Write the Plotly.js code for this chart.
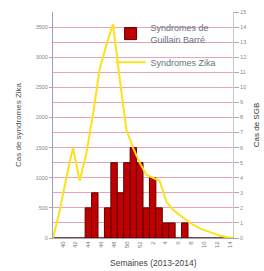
<!DOCTYPE html>
<html>
<head>
<meta charset="utf-8">
<script src="https://cdn.plot.ly/plotly-3.0.1.min.js"></script>
<style>html,body{margin:0;padding:0;background:#fff}#c{width:264px;height:271px}</style>
</head>
<body>
<div id="c"></div>
<script>
var weeks = ["39","40","41","42","43","44","45","46","47","48","49","50","51","52",
             "1","2","3","4","5","6","7","8","9","10","11","12","13","14"];
var tickWeeks = ["40","42","44","46","48","50","52","2","4","6","8","10","12","14"];
var sgbCases = [0,0,0,0,0,2,3,0,2,5,3,5,6,5,2,4,2,1,1,0,1,0,0,0,0,0,0,0];
var zikaCases = [0,450,1000,1500,950,1400,2050,2800,3200,3550,2650,1800,1500,1250,
                 1050,1000,950,600,470,380,300,220,160,120,80,40,15,0];
var seriesNames = ["Syndromes de<br>Guillain Barré", "Syndromes Zika"];

var traces = [
  {type:"bar", x:weeks, y:sgbCases, name:seriesNames[0], xaxis:"x", yaxis:"y", legendgroup:"a",
   marker:{color:"#c00000", line:{color:"#5c0000", width:1}}},
  {type:"scatter", mode:"lines", x:weeks, y:zikaCases, name:seriesNames[1], xaxis:"x2", yaxis:"y2",
   legendgroup:"b", line:{color:"#fbe21c", width:2}}
];

var layout = {
  width:264, height:271,
  margin:{l:53, r:31, t:12, b:33, pad:0},
  paper_bgcolor:"#ffffff", plot_bgcolor:"#ffffff",
  font:{family:"Liberation Sans, Arial, sans-serif", color:"#666"},
  bargap:0,
  showlegend:true,
  legend:{x:0.32, y:0.985, xanchor:"left", yanchor:"top", bgcolor:"rgba(0,0,0,0)",
          font:{size:9, color:"#6a7080"}, tracegroupgap:6},
  xaxis:{type:"category", categoryorder:"array", categoryarray:weeks,
         range:[-0.5, 27.5], tickmode:"array", tickvals:tickWeeks, ticktext:tickWeeks,
         tickangle:-90, tickfont:{size:6, color:"#777"}, showline:true, linecolor:"#9aa",
         ticks:"", showgrid:false, zeroline:false},
  xaxis2:{type:"category", categoryorder:"array", categoryarray:weeks, overlaying:"x",
          range:[0, 27], visible:false},
  yaxis:{side:"right", range:[0,15], dtick:1, showgrid:true, gridcolor:"#eaa3b6", gridwidth:1,
         showline:true, linecolor:"#c8c8c8", ticks:"outside", ticklen:5, tickcolor:"#aaa",
         tickfont:{size:5.5, color:"#888"}, zeroline:false,
         title:{text:"Cas de SGB", font:{size:8, color:"#333"}, standoff:8}},
  yaxis2:{side:"left", overlaying:"y", range:[0,3750], dtick:500, showgrid:false,
          showline:true, linecolor:"#9aa0c0", ticks:"outside", ticklen:3, tickcolor:"#aaa",
          tickfont:{size:5.5, color:"#888"}, zeroline:false,
          title:{text:"Cas de syndromes Zika", font:{size:8, color:"#555"}, standoff:12}},
  shapes:[{type:"rect", xref:"paper", yref:"paper", x0:0.42, x1:0.995, y0:0.77, y1:0.995,
           fillcolor:"#ffffff", line:{width:0}, layer:"below"}],
  annotations:[{text:"Semaines (2013-2014)", xref:"paper", yref:"paper", x:0.56, y:-0.112,
                xanchor:"center", yanchor:"middle", showarrow:false, font:{size:8.5, color:"#444"}}]
};

Plotly.newPlot("c", traces, layout, {staticPlot:true, displayModeBar:false});
</script>
</body>
</html>
